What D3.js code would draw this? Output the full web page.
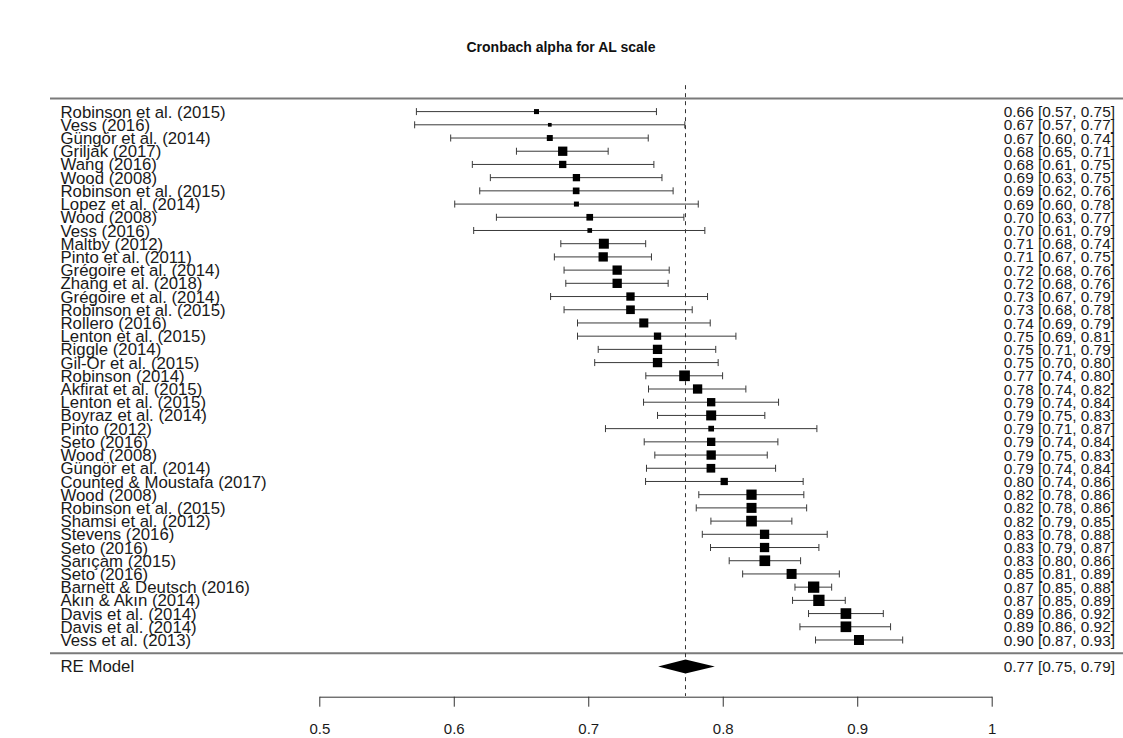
<!DOCTYPE html>
<html>
<head>
<meta charset="utf-8">
<script src="https://cdn.jsdelivr.net/npm/d3@7"></script>
<style>
  html, body { margin: 0; padding: 0; background: #fff; }
  svg { display: block; font-family: "Liberation Sans", Arial, Helvetica, sans-serif; }
</style>
</head>
<body>
<svg id="chart" width="1123" height="738"></svg>
<script>
const title = "Cronbach alpha for AL scale";
const studies = [
  "Robinson et al. (2015)", "Vess (2016)", "Güngör et al. (2014)", "Griljak (2017)",
  "Wang (2016)", "Wood (2008)", "Robinson et al. (2015)", "Lopez et al. (2014)",
  "Wood (2008)", "Vess (2016)", "Maltby (2012)", "Pinto et al. (2011)",
  "Grégoire et al. (2014)", "Zhang et al. (2018)", "Grégoire et al. (2014)", "Robinson et al. (2015)",
  "Rollero (2016)", "Lenton et al. (2015)", "Riggle (2014)", "Gil-Or et al. (2015)",
  "Robinson (2014)", "Akfirat et al. (2015)", "Lenton et al. (2015)", "Boyraz et al. (2014)",
  "Pinto (2012)", "Seto (2016)", "Wood (2008)", "Güngör et al. (2014)",
  "Counted & Moustafa (2017)", "Wood (2008)", "Robinson et al. (2015)", "Shamsi et al. (2012)",
  "Stevens (2016)", "Seto (2016)", "Sarıçam (2015)", "Seto (2016)",
  "Barnett & Deutsch (2016)", "Akın & Akın (2014)", "Davis et al. (2014)", "Davis et al. (2014)",
  "Vess et al. (2013)"
];
const estimates = [
  0.6615, 0.6714, 0.6714, 0.6810, 0.6810, 0.6912, 0.6910, 0.6912,
  0.7011, 0.7011, 0.7116, 0.7111, 0.7215, 0.7215, 0.7314, 0.7314,
  0.7413, 0.7515, 0.7515, 0.7515, 0.7716, 0.7813, 0.7914, 0.7914,
  0.7914, 0.7914, 0.7914, 0.7912, 0.8011, 0.8214, 0.8214, 0.8214,
  0.8311, 0.8311, 0.8313, 0.8512, 0.8676, 0.8715, 0.8916, 0.8916,
  0.9013
];
const lower = [
  0.5722, 0.5709, 0.5977, 0.6466, 0.6138, 0.6272, 0.6193, 0.6007,
  0.6317, 0.6148, 0.6796, 0.6748, 0.6820, 0.6833, 0.6720, 0.6820,
  0.6920, 0.6920, 0.7074, 0.7048, 0.7428, 0.7448, 0.7411, 0.7515,
  0.7128, 0.7416, 0.7495, 0.7433, 0.7426, 0.7822, 0.7803, 0.7912,
  0.7848, 0.7909, 0.8048, 0.8148, 0.8537, 0.8519, 0.8638, 0.8574,
  0.8690
];
const upper = [
  0.7507, 0.7718, 0.7446, 0.7148, 0.7488, 0.7548, 0.7631, 0.7818,
  0.7711, 0.7867, 0.7427, 0.7470, 0.7602, 0.7594, 0.7887, 0.7773,
  0.7907, 0.8098, 0.7948, 0.7966, 0.7999, 0.8172, 0.8415, 0.8313,
  0.8700, 0.8410, 0.8331, 0.8393, 0.8598, 0.8603, 0.8624, 0.8514,
  0.8777, 0.8715, 0.8579, 0.8867, 0.8810, 0.8911, 0.9194, 0.9248,
  0.9338
];
const weights = [
  1.94, 1.75, 2.08, 2.56, 2.27, 2.27, 2.18, 1.94,
  2.18, 1.89, 2.66, 2.56, 2.56, 2.56, 2.42, 2.47,
  2.52, 2.27, 2.56, 2.56, 2.76, 2.56, 2.42, 2.66,
  2.04, 2.42, 2.56, 2.47, 2.27, 2.70, 2.66, 2.76,
  2.56, 2.56, 2.76, 2.66, 2.85, 2.85, 2.76, 2.76,
  2.66
];
const reLabel = "RE Model";
const reEstimate = [0.7723];
const reLower = [0.7520];
const reUpper = [0.7941];
const xTicks = [0.5, 0.6, 0.7, 0.8, 0.9, 1];

const svg = d3.select("#chart");
const n = studies.length;
const fmt = d3.format(".2f");
const ci = (e, l, u) => `${fmt(e)} [${fmt(l)}, ${fmt(u)}]`;

const x = d3.scaleLinear().domain([0.5, 1]).range([319.3, 991.7]);
// row index: 1 = bottom study, n = top study, 0 = lower separator, -1 = RE model
const y = d3.scaleLinear().domain([0, n]).range([653.2, 111.6]);
const size = d3.scaleLinear().domain(d3.extent(weights)).range([3.7, 11.3]);

const lineCol = "#3a3a3a";
const textCol = "#1a1a1a";
const labelSize = 16.8;
const numSize = 15.4;

// title
svg.append("text")
  .attr("x", 561).attr("y", 52)
  .attr("text-anchor", "middle")
  .attr("font-weight", "bold")
  .attr("font-size", 14)
  .attr("fill", "#111")
  .text(title);

// separator lines
[n + 1, 0].forEach(r => {
  svg.append("line")
    .attr("x1", 50).attr("x2", 1123)
    .attr("y1", y(r)).attr("y2", y(r))
    .attr("stroke", "#7a7a7a").attr("stroke-width", 2);
});

// reference line at RE estimate
svg.append("line")
  .attr("x1", x(reEstimate[0])).attr("x2", x(reEstimate[0]))
  .attr("y1", y(n + 2)).attr("y2", 696)
  .attr("stroke", "#333").attr("stroke-width", 1)
  .attr("stroke-dasharray", "4,4");

const rows = studies.map((s, i) => ({
  label: s, est: estimates[i], lo: lower[i], hi: upper[i], w: weights[i], r: n - i
}));

const g = svg.append("g");
const capH = 3.5;
const rowG = g.selectAll("g.row").data(rows).join("g").attr("class", "row");
rowG.append("line")
  .attr("x1", d => x(d.lo)).attr("x2", d => x(d.hi))
  .attr("y1", d => y(d.r)).attr("y2", d => y(d.r))
  .attr("stroke", lineCol).attr("stroke-width", 1);
rowG.append("line")
  .attr("x1", d => x(d.lo)).attr("x2", d => x(d.lo))
  .attr("y1", d => y(d.r) - capH).attr("y2", d => y(d.r) + capH)
  .attr("stroke", lineCol).attr("stroke-width", 1);
rowG.append("line")
  .attr("x1", d => x(d.hi)).attr("x2", d => x(d.hi))
  .attr("y1", d => y(d.r) - capH).attr("y2", d => y(d.r) + capH)
  .attr("stroke", lineCol).attr("stroke-width", 1);
rowG.append("rect")
  .attr("x", d => x(d.est) - size(d.w) / 2)
  .attr("y", d => y(d.r) - size(d.w) / 2)
  .attr("width", d => size(d.w)).attr("height", d => size(d.w))
  .attr("fill", "#000");
rowG.append("text")
  .attr("x", 60.5).attr("y", d => y(d.r)).attr("dy", "0.36em")
  .attr("font-size", labelSize).attr("fill", textCol)
  .text(d => d.label);
rowG.append("text")
  .attr("x", 1115).attr("y", d => y(d.r)).attr("dy", "0.36em")
  .attr("text-anchor", "end")
  .attr("font-size", numSize).attr("fill", textCol)
  .text(d => ci(d.est, d.lo, d.hi));

// RE model
const yRE = y(-1);
svg.append("polygon")
  .attr("points", [
    [x(reLower[0]), yRE], [x(reEstimate[0]), yRE - 7],
    [x(reUpper[0]), yRE], [x(reEstimate[0]), yRE + 7]
  ].map(p => p.join(",")).join(" "))
  .attr("fill", "#000");
svg.append("text")
  .attr("x", 60.5).attr("y", yRE).attr("dy", "0.36em")
  .attr("font-size", labelSize).attr("fill", textCol)
  .text(reLabel);
svg.append("text")
  .attr("x", 1115).attr("y", yRE).attr("dy", "0.36em")
  .attr("text-anchor", "end")
  .attr("font-size", numSize).attr("fill", textCol)
  .text(ci(reEstimate[0], reLower[0], reUpper[0]));

// x axis
const axis = d3.axisBottom(x)
  .tickValues(xTicks)
  .tickFormat(d => d === 1 ? "1" : d3.format(".1f")(d))
  .tickSize(10).tickSizeOuter(0).tickPadding(17);
const ax = svg.append("g").attr("transform", "translate(0,696.7)").call(axis);
ax.select(".domain").attr("stroke", "#333").attr("stroke-width", 1);
ax.selectAll(".tick line").attr("stroke", "#333");
ax.selectAll(".tick text")
  .attr("font-size", 15).attr("fill", textCol)
  .attr("font-family", "Liberation Sans, Arial, sans-serif");
</script>
</body>
</html>
